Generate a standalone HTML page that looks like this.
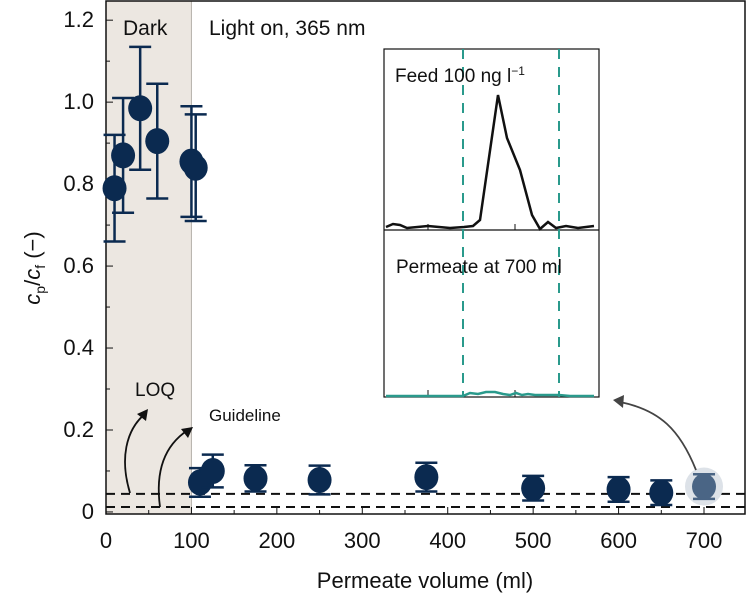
<!DOCTYPE html>
<html><head><meta charset="utf-8"><style>
body{margin:0;background:#fff;}
svg{display:block;font-family:"Liberation Sans",Arial,sans-serif;}
</style></head><body>
<svg id="chart" width="747" height="599" viewBox="0 0 747 599">
<g id="plot"></g>
</svg>
<script>
const darkVolumes=[10,20,40,60,100,105];
const darkValues=[0.79,0.87,0.985,0.905,0.855,0.84];
const darkErrors=[0.13,0.14,0.15,0.14,0.135,0.13];
const lightVolumes=[110,125,175,250,375,500,600,650];
const lightValues=[0.072,0.1,0.082,0.078,0.085,0.058,0.055,0.047];
const lightErrors=[0.035,0.04,0.032,0.035,0.035,0.03,0.03,0.03];
const highlightVolume=[700];
const highlightValue=[0.062];
const highlightError=[0.03];
const xTicks=[0,100,200,300,400,500,600,700];
const yTicks=[0,0.2,0.4,0.6,0.8,1.0,1.2];
const yTickLabels=["0","0.2","0.4","0.6","0.8","1.0","1.2"];
const loqLevel=[0.012];
const guidelineLevel=[0.044];

const X0=106,X1=745,Y0=1,Y1=514;
const xMin=0,xMax=(X1-X0)/0.8543;
const yMin=-0.005,yMax=1.2468;
const sx=v=>X0+(v-xMin)/(xMax-xMin)*(X1-X0);
const sy=v=>Y1-(v-yMin)/(yMax-yMin)*(Y1-Y0);
const NS="http://www.w3.org/2000/svg";
const g=document.getElementById('plot');
function mk(t,a,p){const e=document.createElementNS(NS,t);for(const k in a)e.setAttribute(k,a[k]);(p||g).appendChild(e);return e;}

let r=mk('rect',{x:X0,y:Y0,width:sx(100)-X0,height:Y1-Y0,fill:'#ece7e1'});


let l=mk('line',{x1:sx(100),y1:Y0,x2:sx(100),y2:Y1,stroke:'#b5b0aa','stroke-width':1});



[[loqLevel[0],'loq-line'],[guidelineLevel[0],'guideline-line']].forEach(([v,n])=>{
 const e=mk('line',{x1:X0,x2:X1,y1:sy(v),y2:sy(v),stroke:'#111','stroke-width':2,'stroke-dasharray':'9,6'});
 
 
});

let ax=mk('rect',{x:X0,y:Y0,width:X1-X0,height:Y1-Y0,fill:'none',stroke:'#111','stroke-width':1.5});


xTicks.forEach(v=>{
 const t=mk('line',{x1:sx(v),x2:sx(v),y1:Y1,y2:Y1-7,stroke:'#111','stroke-width':1});
 
 
 if(v+50<xMax){const m=mk('line',{x1:sx(v+50),x2:sx(v+50),y1:Y1,y2:Y1-4,stroke:'#111','stroke-width':1});
 
 }
 const tx=mk('text',{x:sx(v),y:548,'text-anchor':'middle','font-size':22,fill:'#111'});
 tx.textContent=v;
 
 
});
yTicks.forEach((v,i)=>{
 const t=mk('line',{x1:X0,x2:X0+7,y1:sy(v),y2:sy(v),stroke:'#111','stroke-width':1});
 
 
 const m=mk('line',{x1:X0,x2:X0+4,y1:sy(v+0.1),y2:sy(v+0.1),stroke:'#111','stroke-width':1});
 
 
 const tx=mk('text',{x:94,y:sy(v)+7,'text-anchor':'end','font-size':22,fill:'#111'});
 tx.textContent=yTickLabels[i];
 
 
});

function point(xv,yv,ev,col,name){
 const x=sx(xv),y=sy(yv),t=sy(yv+ev),b=sy(yv-ev);
 const grp=mk('g',{});
 
 
 mk('line',{x1:x,x2:x,y1:t,y2:b,stroke:col,'stroke-width':2.5},grp);
 mk('line',{x1:x-11,x2:x+11,y1:t,y2:t,stroke:col,'stroke-width':2.5},grp);
 mk('line',{x1:x-11,x2:x+11,y1:b,y2:b,stroke:col,'stroke-width':2.5},grp);
 mk('ellipse',{cx:x,cy:y,rx:12,ry:13,fill:col},grp);
}
darkVolumes.forEach((v,i)=>point(v,darkValues[i],darkErrors[i],'#0b2a50','dark-point'));
lightVolumes.forEach((v,i)=>point(v,lightValues[i],lightErrors[i],'#0b2a50','light-point'));
mk('circle',{cx:sx(highlightVolume[0]),cy:sy(highlightValue[0]),r:19,fill:'#dde2e8'});
point(highlightVolume[0],highlightValue[0],highlightError[0],'#4a6585','highlight-point-700ml');
</script>
<svg style="position:absolute;left:0;top:0" width="747" height="599" viewBox="0 0 747 599" font-family="Liberation Sans, Arial, sans-serif">
 <text x="123" y="35" font-size="21" fill="#111">Dark</text>
 <text x="209" y="35" font-size="21" fill="#111">Light on, 365 nm</text>
 <text x="135" y="396" font-size="19" fill="#111">LOQ</text>
 <text x="209" y="421" font-size="17" fill="#111">Guideline</text>
 <path d="M130,493 C120,460 125,430 146,413" fill="none" stroke="#111" stroke-width="1.8"/>
 <polygon points="148,409 137,414 146,421" fill="#111"/>
 <path d="M160,507 C155,470 165,445 188,430" fill="none" stroke="#111" stroke-width="1.8"/>
 <polygon points="193,427 181,429 188,438" fill="#111"/>
 <path d="M696,470 C680,430 660,410 620,402" fill="none" stroke="#444" stroke-width="1.8"/>
 <polygon points="613,400 624,395 623,408" fill="#444"/>
 <g>
  <rect x="384" y="49" width="215" height="348" fill="#fff" stroke="#111" stroke-width="1.2"/>
  <line x1="384" y1="230" x2="599" y2="230" stroke="#111" stroke-width="1.2"/>
  <line x1="428" y1="230" x2="428" y2="224" stroke="#111"/><line x1="515" y1="230" x2="515" y2="224" stroke="#111"/>
  <line x1="428" y1="397" x2="428" y2="390" stroke="#111"/><line x1="515" y1="397" x2="515" y2="390" stroke="#111"/>
  <line x1="463" y1="49" x2="463" y2="397" stroke="#2a9a8c" stroke-width="2" stroke-dasharray="10,8"/>
  <line x1="559" y1="49" x2="559" y2="397" stroke="#2a9a8c" stroke-width="2" stroke-dasharray="10,8"/>
  <text x="395" y="82" font-size="19" fill="#111">Feed 100 ng l<tspan dy="-7" font-size="12">−1</tspan></text>
  <polyline points="386,227 393,224 400,225 407,228 428,226 450,228 464,227 473,226 480,220 498,95 507,138 520,170 532,215 540,229 548,222 556,228 566,226 578,228 594,226" fill="none" stroke="#111" stroke-width="2.5"/>
  <text x="396" y="273" font-size="19" fill="#111">Permeate at 700 ml</text>
  <polyline points="386,396 463,396 470,393 478,394 486,392 495,392 503,394 510,395 516,393 522,395 528,394 535,395 545,395 559,395 570,396 594,396" fill="none" stroke="#2a9a8c" stroke-width="2.5"/>
 </g>
 <text transform="translate(40,268) rotate(-90)" text-anchor="middle" font-size="22" fill="#111"><tspan font-style="italic">c</tspan><tspan font-size="14" dy="5">p</tspan><tspan dy="-5">/</tspan><tspan font-style="italic">c</tspan><tspan font-size="14" dy="5">f</tspan><tspan dy="-5"> (−)</tspan></text>
 <text x="425" y="588" text-anchor="middle" font-size="22" fill="#111">Permeate volume (ml)</text>
</svg>
</body></html>
